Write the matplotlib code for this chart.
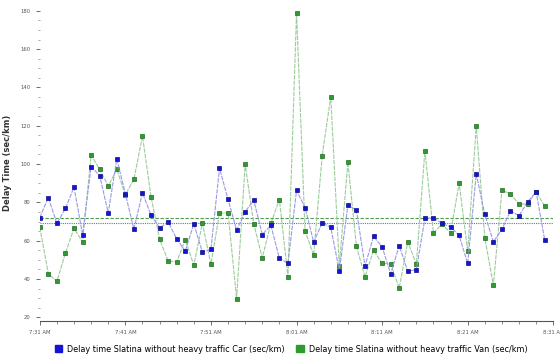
import matplotlib
matplotlib.use("Agg")
import matplotlib.pyplot as plt
import numpy as np
from matplotlib.ticker import MultipleLocator

# one reading per minute from 7:31 AM
minutes = list(range(60))
car = [72, 82.5, 69, 76.8, 88, 63.2, 98.6, 94, 74.5, 102.6,
       84.5, 66, 85, 73.3, 66.7, 69.8, 61, 54.5, 68.8, 54,
       55.5, 97.8, 81.6, 65.5, 75.1, 81.2, 63.2, 68, 50.8, 48.1,
       86.2, 77.3, 59.2, 69.3, 66.9, 44.4, 78.5, 75.9, 46.8, 62.2,
       56.8, 42.7, 57.4, 44, 44.9, 71.6, 71.9, 69, 67.2, 62.7,
       48.1, 94.8, 73.7, 59.4, 65.9, 75.6, 73, 80.3, 85.5, 60.3]
van = [67, 42.8, 38.7, 53.5, 66.4, 59.4, 104.7, 97.2, 88.6, 97.2,
       84, 92, 114.6, 82.9, 60.8, 49.4, 48.9, 60.5, 47.2, 69.1,
       47.7, 74.4, 74.5, 29.8, 100, 68.8, 51, 69, 81.4, 41.1,
       178.8, 65.1, 52.4, 104.3, 135.2, 46.8, 101, 57.1, 41.1, 55,
       48.1, 47.9, 35.2, 59.4, 47.7, 107, 64.1, 68.6, 64.1, 90,
       54.5, 119.9, 61.5, 36.7, 86.4, 84.3, 79.1, 79.1, 85.5, 78]
tick_labels = ["7:31 AM", "7:41 AM", "7:51 AM", "8:01 AM", "8:11 AM", "8:21 AM", "8:31 AM"]
car_label = "Delay time Slatina without heavy traffic Car (sec/km)"
van_label = "Delay time Slatina without heavy traffic Van (sec/km)"

BLUE = "#1414d8"
GREEN = "#2f9a2f"

fig = plt.figure(figsize=(5.6, 3.6), dpi=100)
ax = fig.add_axes([0.071, 0.108, 0.917, 0.878])

ax.axhline(np.mean(van), color="#4f9a4f", lw=0.8, ls=(0, (3, 1.5)), zorder=1)
ax.axhline(np.mean(car), color="#6a6ad0", lw=0.8, ls=(0, (1, 1)), zorder=1)

ax.plot(minutes, van, color="#9ccc9c", lw=0.8, ls=(0, (4, 1)), zorder=2,
        marker="s", ms=3.5, mfc=GREEN, mec="#1d6b1d", mew=0.5)
ax.plot(minutes, car, color="#9a9ae8", lw=0.8, ls=(0, (4, 1)), zorder=3,
        marker="s", ms=3.5, mfc=BLUE, mec="#0c0c8a", mew=0.5)

ax.set_xlim(0, 60)
ax.set_ylim(18, 183)
ax.set_xticks(range(0, 61, 10))
ax.set_xticklabels(tick_labels, fontsize=3.8, color="#444")
ax.xaxis.set_minor_locator(MultipleLocator(2))
ax.yaxis.set_minor_locator(MultipleLocator(5))
ax.set_yticks(range(20, 181, 20))
ax.tick_params(axis="y", labelsize=3.8, colors="#555", length=3, width=0.6)
ax.tick_params(axis="y", which="minor", length=1.5, width=0.6, colors="#999")
ax.tick_params(axis="x", length=3, width=0.6, colors="#555")
ax.tick_params(axis="x", which="minor", length=2, width=0.6, colors="#777")
for s in ["top", "right", "left"]:
    ax.spines[s].set_visible(False)
ax.spines["bottom"].set_color("#555")
ax.spines["bottom"].set_linewidth(0.8)

ax.set_ylabel("Delay Time (sec/km)", fontsize=6, fontweight="bold", color="#333",
              labelpad=6)

handles = [plt.Rectangle((0, 0), 1, 1, color=BLUE),
           plt.Rectangle((0, 0), 1, 1, color=GREEN)]
fig.legend(handles, [car_label, van_label], loc="center", bbox_to_anchor=(0.52, 0.03),
           ncol=2, frameon=False, fontsize=5.9, handlelength=0.9, handleheight=0.9,
           columnspacing=1.4, handletextpad=0.6)

fig.savefig("out.png", dpi=100)
